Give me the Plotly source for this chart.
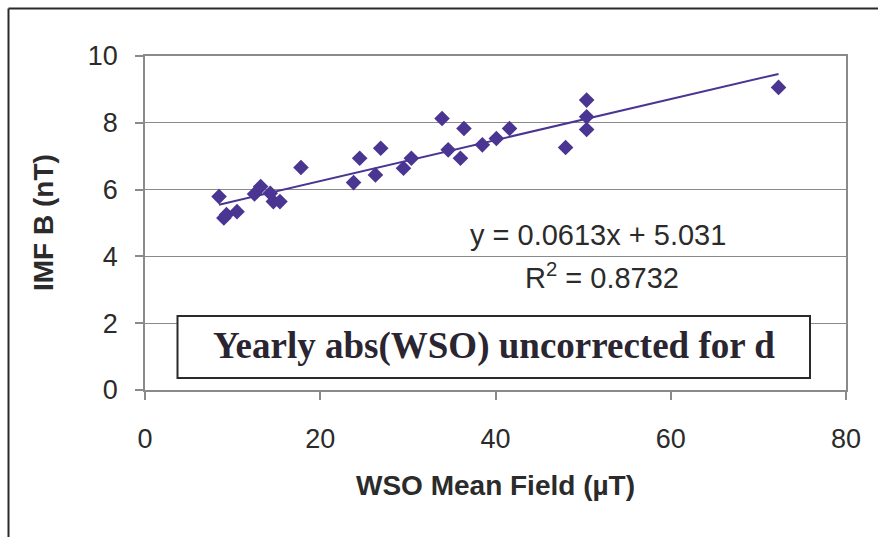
import plotly.graph_objects as go

# Data
wso_mean_field = [8.45, 9.0, 9.3, 10.5, 12.5, 13.2, 14.3, 14.65, 15.4, 17.8,
                  23.8, 24.5, 26.3, 26.9, 29.5, 30.4, 33.9, 34.6, 36.0, 36.4,
                  38.5, 40.1, 41.6, 48.0, 50.4, 50.4, 50.4, 72.3]
imf_b = [5.79, 5.15, 5.25, 5.34, 5.87, 6.09, 5.89, 5.64, 5.64, 6.66,
         6.21, 6.94, 6.44, 7.24, 6.64, 6.94, 8.13, 7.19, 6.94, 7.83,
         7.34, 7.53, 7.83, 7.26, 8.68, 8.18, 7.80, 9.06]
trend_slope = 0.0613
trend_intercept = 5.031
r_squared = 0.8732
x_ticks = [0, 20, 40, 60, 80]
y_ticks = [0, 2, 4, 6, 8, 10]

purple = "#4a3592"
line_grey = "#8a8a8a"
text_col = "#2b2b2b"

x_min, x_max = min(wso_mean_field), max(wso_mean_field)
trend_x = [x_min, x_max]
trend_y = [trend_slope * v + trend_intercept for v in trend_x]

fig = go.Figure()
fig.add_trace(go.Scatter(x=trend_x, y=trend_y, mode="lines",
                         line=dict(color=purple, width=2), showlegend=False,
                         hoverinfo="skip"))
fig.add_trace(go.Scatter(x=wso_mean_field, y=imf_b, mode="markers",
                         marker=dict(symbol="diamond", size=12, color=purple,
                                     line=dict(width=0)),
                         showlegend=False))

W, H = 878, 537
L, R, T, B = 145, 846, 56, 390

fig.update_layout(
    width=W, height=H,
    margin=dict(l=L, r=W - R, t=T, b=H - B),
    paper_bgcolor="white", plot_bgcolor="white",
    font=dict(family="Liberation Sans, Arial, sans-serif", color=text_col, size=27),
    xaxis=dict(range=[0, 80], tickvals=x_ticks, ticks="outside", ticklen=8,
               tickcolor=line_grey, tickwidth=1.5, showline=True,
               linecolor=line_grey, linewidth=1.5, mirror=True,
               showgrid=False, zeroline=False, ticklabelstandoff=16,
               tickfont=dict(size=27, color=text_col)),
    yaxis=dict(range=[0, 10], tickvals=y_ticks, ticks="outside", ticklen=8,
               tickcolor=line_grey, tickwidth=1.5, showline=True,
               linecolor=line_grey, linewidth=1.5, mirror=True,
               showgrid=True, gridcolor=line_grey, gridwidth=1.2,
               zeroline=False, ticklabelstandoff=12,
               tickfont=dict(size=27, color=text_col)),
)

def px_x(p):
    return p / W

def px_y(p):
    return 1 - p / H

annotations = [
    dict(text="<b>WSO Mean Field (µT)</b>", xref="paper", yref="paper",
         x=(px_x(495.5) - px_x(L)) / (px_x(R) - px_x(L)), y=(px_y(485) - px_y(B)) / (px_y(T) - px_y(B)),
         showarrow=False, font=dict(size=28, color=text_col), xanchor="center", yanchor="middle"),
    dict(text="<b>IMF B (nT)</b>", xref="paper", yref="paper", textangle=-90,
         x=(px_x(43) - px_x(L)) / (px_x(R) - px_x(L)), y=(px_y(223) - px_y(B)) / (px_y(T) - px_y(B)),
         showarrow=False, font=dict(size=28, color=text_col), xanchor="center", yanchor="middle"),
    dict(text=f"y = {trend_slope}x + {trend_intercept}", xref="paper", yref="paper",
         x=(px_x(598) - px_x(L)) / (px_x(R) - px_x(L)), y=(px_y(235) - px_y(B)) / (px_y(T) - px_y(B)),
         showarrow=False, font=dict(size=29, color=text_col), xanchor="center", yanchor="middle"),
    dict(text=f"R<sup>2</sup> = {r_squared}", xref="paper", yref="paper",
         x=(px_x(602) - px_x(L)) / (px_x(R) - px_x(L)), y=(px_y(276) - px_y(B)) / (px_y(T) - px_y(B)),
         showarrow=False, font=dict(size=29, color=text_col), xanchor="center", yanchor="middle"),
    dict(text="<b>Yearly abs(WSO) uncorrected for d</b>", xref="paper", yref="paper",
         x=(px_x(493.5) - px_x(L)) / (px_x(R) - px_x(L)), y=(px_y(346) - px_y(B)) / (px_y(T) - px_y(B)),
         showarrow=False, font=dict(family="Liberation Serif, Times New Roman, serif", size=37, color="#2a2530"),
         xanchor="center", yanchor="middle"),
]
fig.update_layout(annotations=annotations)

def fx(p):
    return (p - L) / (R - L)

def fy(p):
    return (B - p) / (B - T)

shapes = [
    # text box frame
    dict(type="rect", xref="paper", yref="paper", x0=fx(177.5), x1=fx(810), y0=fy(378), y1=fy(316),
         line=dict(color="#2a2a2a", width=2), fillcolor="white", layer="above"),
    # outer chart frame (left and top edges)
    dict(type="line", xref="paper", yref="paper", x0=fx(8.5), x1=fx(8.5), y0=fy(8.5), y1=fy(545),
         line=dict(color="#2a2a2a", width=2)),
    dict(type="line", xref="paper", yref="paper", x0=fx(8.5), x1=fx(890), y0=fy(8.5), y1=fy(8.5),
         line=dict(color="#2a2a2a", width=2)),
]
fig.update_layout(shapes=shapes)

fig.write_html("out.html")
